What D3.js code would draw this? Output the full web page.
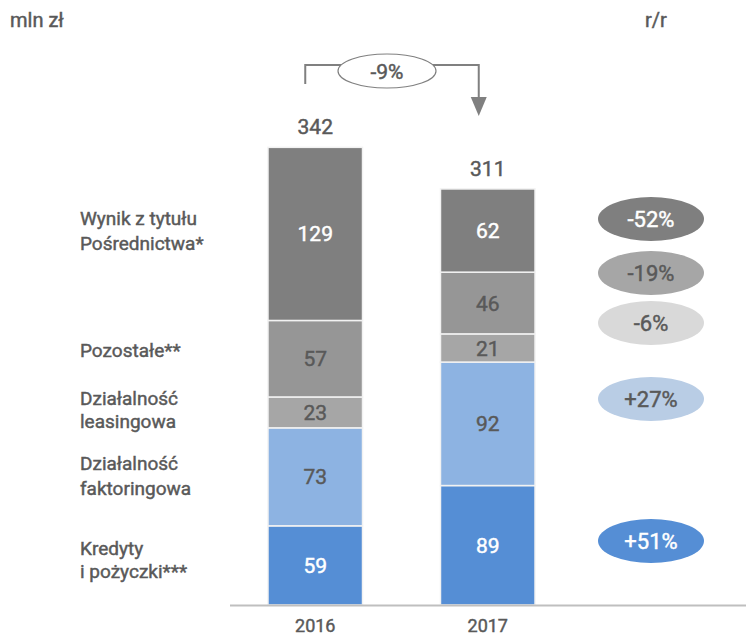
<!DOCTYPE html>
<html><head><meta charset="utf-8">
<script src="https://cdn.jsdelivr.net/npm/d3@7"></script>
<style>
html,body{margin:0;padding:0;background:#fff;}
svg{display:block;font-family:Roboto,"Noto Sans",sans-serif;}
.med{stroke-width:0.45px;}
</style></head>
<body>
<svg id="chart" width="746" height="638"></svg>
<script>
// ---- data ----
const years = ["2016", "2017"];
const seriesNames = ["Kredyty i pożyczki***", "Działalność faktoringowa", "Działalność leasingowa", "Pozostałe**", "Wynik z tytułu Pośrednictwa*"];
const values2016 = [59, 73, 23, 57, 129];
const values2017 = [89, 92, 21, 46, 62];
const totals = [342, 311];
const yoyLabels = ["+51%", "+27%", "-6%", "-19%", "-52%"];
const totalChange = "-9%";
const legendLines = [["Kredyty", "i pożyczki***"], ["Działalność", "faktoringowa"], ["Działalność", "leasingowa"], ["Pozostałe**"], ["Wynik z tytułu", "Pośrednictwa*"]];

// ---- styles / layout ----
const segColors = ["#558ed5", "#8db3e2", "#a6a6a6", "#969696", "#7f7f7f"];
const segTextColors = ["#ffffff", "#595959", "#595959", "#595959", "#ffffff"];
const pillColors = ["#558ed5", "#b9cde5", "#d9d9d9", "#a6a6a6", "#7f7f7f"];
const pillTextColors = ["#ffffff", "#595959", "#595959", "#595959", "#ffffff"];
const pillY = [541, 399, 323, 273, 219];
const legendBaselines = [[555, 578], [470, 495], [405, 428], [357], [225, 250]];
const textGray = "#595959";

const svg = d3.select("#chart");
const x = d3.scaleBand().domain(years).range([229, 574]).paddingInner(0.452).paddingOuter(0.226);
const y = d3.scaleLinear().domain([0, 342]).range([605, 146]);

function med(sel, color) {
  return sel.attr("class", "med").attr("fill", color).attr("stroke", color);
}

const valuesByYear = [values2016, values2017];
const rows = years.map((yr, i) => {
  const o = {year: yr};
  seriesNames.forEach((s, j) => o[s] = valuesByYear[i][j]);
  return o;
});
const stack = d3.stack().keys(seriesNames)(rows);

// bars
const layers = svg.append("g").selectAll("g").data(stack).join("g")
  .attr("fill", (d, i) => segColors[i]);
layers.selectAll("rect").data(d => d).join("rect")
  .attr("x", d => x(d.data.year))
  .attr("width", x.bandwidth())
  .attr("y", d => y(d[1]))
  .attr("height", d => y(d[0]) - y(d[1]))
  .attr("stroke", "#f2f2f2").attr("stroke-width", 1.5);

// segment labels
stack.forEach((layer, i) => {
  med(svg.append("g").selectAll("text").data(layer).join("text")
    .attr("x", d => x(d.data.year) + x.bandwidth() / 2)
    .attr("y", d => (y(d[0]) + y(d[1])) / 2)
    .attr("dy", "0.36em")
    .attr("text-anchor", "middle")
    .attr("font-size", 21), segTextColors[i])
    .text(d => d[1] - d[0]);
});

// totals
med(svg.append("g").selectAll("text").data(years).join("text")
  .attr("x", d => x(d) + x.bandwidth() / 2)
  .attr("y", (d, i) => y(totals[i]) - 12)
  .attr("text-anchor", "middle")
  .attr("font-size", 21), textGray)
  .text((d, i) => totals[i]);

// axis
const xAxis = d3.axisBottom(x).tickSize(0).tickPadding(14);
const ax = svg.append("g").attr("transform", `translate(0,${y(0)})`).call(xAxis);
ax.select(".domain").remove();
med(ax.selectAll("text").attr("font-size", 18).attr("font-family", "Roboto"), textGray);
svg.append("line").attr("x1", 230).attr("x2", 746).attr("y1", y(0) + 0.5).attr("y2", y(0) + 0.5)
  .attr("stroke", "#bfbfbf").attr("stroke-width", 2);

// legend labels
legendLines.forEach((lines, i) => {
  lines.forEach((ln, k) => {
    med(svg.append("text").attr("x", 80).attr("y", legendBaselines[i][k])
      .attr("font-size", 19), textGray).text(ln);
  });
});

// header texts
med(svg.append("text").attr("x", 10).attr("y", 27).attr("font-size", 20), textGray).text("mln zł");
med(svg.append("text").attr("x", 645).attr("y", 27).attr("font-size", 20), textGray).text("r/r");

// r/r pills
const pillCx = 651;
yoyLabels.forEach((t, i) => {
  svg.append("ellipse").attr("cx", pillCx).attr("cy", pillY[i]).attr("rx", 53).attr("ry", 22).attr("fill", pillColors[i]);
  med(svg.append("text").attr("x", pillCx).attr("y", pillY[i]).attr("dy", "0.36em")
    .attr("text-anchor", "middle").attr("font-size", 22), pillTextColors[i]).text(t);
});

// change arrow
const x1c = x("2016") + x.bandwidth() / 2 - 10;
const x2c = x("2017") + x.bandwidth() / 2 - 9;
const lineY = 65;
svg.append("path")
  .attr("d", `M${x1c},84 V${lineY} H${x2c} V100`)
  .attr("fill", "none").attr("stroke", "#808080").attr("stroke-width", 2);
svg.append("path")
  .attr("d", `M${x2c - 8},97 L${x2c + 8},97 L${x2c},116 Z`)
  .attr("fill", "#808080");
const ecx = (x1c + x2c) / 2 - 5;
svg.append("ellipse").attr("cx", ecx).attr("cy", 71).attr("rx", 49).attr("ry", 17)
  .attr("fill", "#fff").attr("stroke", "#808080").attr("stroke-width", 1.2);
med(svg.append("text").attr("x", ecx).attr("y", 71).attr("dy", "0.36em").attr("text-anchor", "middle")
  .attr("font-size", 21), textGray).text(totalChange);
</script>
</body></html>
